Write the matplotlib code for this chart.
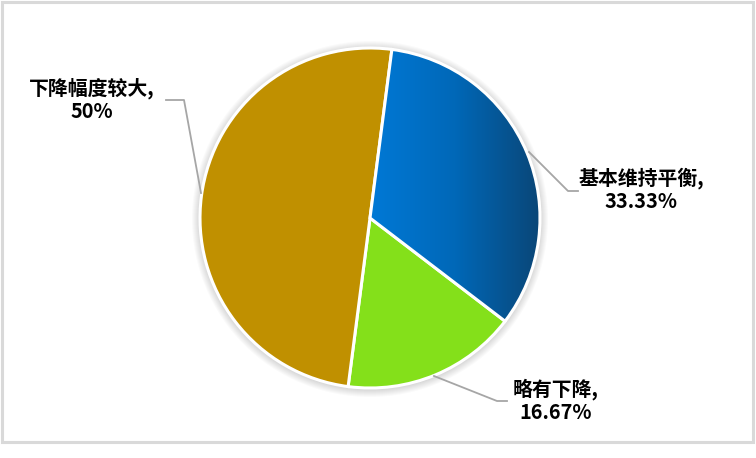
import numpy as np
import matplotlib
matplotlib.use("Agg")
import matplotlib.pyplot as plt
from matplotlib.patches import Rectangle, Circle
from matplotlib.colors import LinearSegmentedColormap

plt.rcParams['font.family'] = ['Noto Sans CJK SC', 'DejaVu Sans']

categories = ['基本维持平衡', '略有下降', '下降幅度较大']
shares = [33.33, 16.67, 50.0]
share_text = ['33.33%', '16.67%', '50%']
colors = ['#0077cc', '#84e01a', '#c09000']

W, H = 756, 458
fig = plt.figure(figsize=(W / 100, H / 100), dpi=100)
ax = fig.add_axes([0, 0, 1, 1])

# soft shadow round the pie
cx, cy, r = 370, H - 218, 170
for k in range(1, 9):
    ax.add_patch(Circle((cx, cy - 1), r + k, color='#000000', alpha=0.018, lw=0, zorder=1))

wedges, _ = ax.pie(shares, colors=colors, startangle=82.6, counterclock=False,
                   center=(cx, cy), radius=r, frame=True,
                   wedgeprops=dict(edgecolor='white', linewidth=2.2))
for w in wedges:
    w.set_zorder(2)
ax.set_xlim(0, W)
ax.set_ylim(0, H)
ax.set_aspect('equal')
ax.axis('off')

# outer frame
ax.add_patch(Rectangle((1.5, H - 442), 751, 440, fill=False, ec='#d9d9d9', lw=2.2))

# horizontal gradient on the blue slice
blue = wedges[0]
cmap = LinearSegmentedColormap.from_list('bl', ['#0079d6', '#0068b8', '#0a4677'])
grad = np.linspace(0, 1, 256).reshape(1, -1)
im = ax.imshow(grad, cmap=cmap, extent=(cx, cx + r, cy - r, cy + r), aspect='auto', zorder=3)
im.set_clip_path(blue)
blue.set_facecolor('none')
blue.set_zorder(4)
ax.set_xlim(0, W)
ax.set_ylim(0, H)

lc = '#a6a6a6'
# leader lines (pixel coordinates from the top)
leaders = [
    [(529, 152), (568, 191), (578, 191)],
    [(434, 376), (497, 401), (507, 401)],
    [(201, 193), (184, 100), (166, 100)],
]
label_pos = [(641, 190), (556, 401), (92, 100)]
for pts, (lx, ly), name, txt in zip(leaders, label_pos, categories, share_text):
    xs = [p[0] for p in pts]
    ys = [H - p[1] for p in pts]
    ax.plot(xs, ys, color=lc, lw=1.3, zorder=5)
    ax.text(lx, H - ly, name + ',\n' + txt, ha='center', va='center',
            fontsize=14.3, fontweight='bold', color='black', linespacing=1.12, zorder=6)

fig.savefig('out.png', dpi=100, facecolor='white')
